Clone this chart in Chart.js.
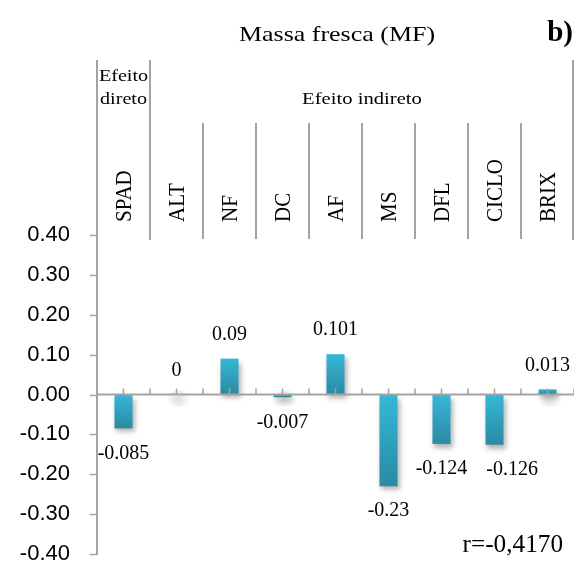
<!DOCTYPE html>
<html>
<head>
<meta charset="utf-8">
<script src="https://cdn.jsdelivr.net/npm/chart.js@4"></script>
<style>
  html, body { margin: 0; padding: 0; background: #ffffff; }
  #wrap { width: 574px; height: 569px; position: relative; }
</style>
</head>
<body>
<div id="wrap"><canvas id="c" width="574" height="569"></canvas></div>
<script>
const categories = ['SPAD', 'ALT', 'NF', 'DC', 'AF', 'MS', 'DFL', 'CICLO', 'BRIX'];
const effects = [-0.085, 0, 0.09, -0.007, 0.101, -0.23, -0.124, -0.126, 0.013];
const valueLabels = ['-0.085', '0', '0.09', '-0.007', '0.101', '-0.23', '-0.124', '-0.126', '0.013'];
const yTickValues = [-0.4, -0.3, -0.2, -0.1, 0, 0.1, 0.2, 0.3, 0.4];
const titleText = 'Massa fresca (MF)';
const panelLetter = 'b)';
const directLabel = ['Efeito', 'direto'];
const indirectLabel = 'Efeito indireto';
const corrText = 'r=-0,4170';

const SERIF = '"Liberation Serif", "Times New Roman", serif';
const GRAY = '#a3a3a3';

function barGradient(context) {
  const chart = context.chart;
  const area = chart.chartArea;
  if (!area || !chart.scales.y) return '#30a6c4';
  const v = effects[context.dataIndex];
  const y0 = chart.scales.y.getPixelForValue(0);
  const y1 = chart.scales.y.getPixelForValue(v);
  const top = Math.min(y0, y1), bot = Math.max(y0, y1);
  if (bot - top < 1) return '#30a6c4';
  const g = chart.ctx.createLinearGradient(0, top, 0, bot);
  g.addColorStop(0, '#36b7d7');
  g.addColorStop(1, '#2a8aa2');
  return g;
}

// draw text with horizontal stretch sx
function stretchText(ctx, text, x, y, align, sx) {
  ctx.save();
  ctx.translate(x, y);
  ctx.scale(sx, 1);
  ctx.textAlign = align;
  ctx.fillText(text, 0, 0);
  ctx.restore();
}

const decorPlugin = {
  id: 'decor',
  beforeDatasetsDraw(chart) {
    const ctx = chart.ctx;
    ctx.save();
    ctx.shadowColor = 'rgba(0,0,0,0.30)';
    ctx.shadowBlur = 5;
    ctx.shadowOffsetX = 2;
    ctx.shadowOffsetY = 4;
  },
  afterDatasetsDraw(chart) {
    const ctx = chart.ctx;
    ctx.restore();
    const x = chart.scales.x, y = chart.scales.y;
    const area = chart.chartArea;
    const y0 = y.getPixelForValue(0);
    const n = categories.length;
    const w = (area.right - area.left) / n;

    // faint shadow blobs for (near) zero bars
    ctx.save();
    for (let i = 0; i < n; i++) {
      if (Math.abs(effects[i]) < 0.015) {
        const cx = x.getPixelForValue(i);
        const grd = ctx.createRadialGradient(cx + 2, y0 + 4, 1, cx + 2, y0 + 4, 12);
        grd.addColorStop(0, 'rgba(0,0,0,0.12)');
        grd.addColorStop(1, 'rgba(0,0,0,0)');
        ctx.fillStyle = grd;
        ctx.fillRect(cx - 12, y0 - 4, 28, 16);
      }
    }
    ctx.restore();

    ctx.save();
    // y-axis tick marks (short, left of axis)
    ctx.strokeStyle = GRAY;
    ctx.lineWidth = 1.5;
    ctx.beginPath();
    yTickValues.forEach(v => {
      const py = Math.round(y.getPixelForValue(v)) + 0.5;
      ctx.moveTo(area.left - 7, py); ctx.lineTo(area.left, py);
    });
    ctx.stroke();

    // zero axis line
    ctx.lineWidth = 2;
    ctx.beginPath();
    ctx.moveTo(area.left, y0);
    ctx.lineTo(area.right, y0);
    ctx.stroke();
    // ticks at category centres and boundaries
    ctx.lineWidth = 1.5;
    ctx.beginPath();
    for (let i = 0; i < n; i++) {
      const cx = x.getPixelForValue(i);
      ctx.moveTo(cx, y0 - 6); ctx.lineTo(cx, y0);
      const bx = cx + w / 2;
      ctx.moveTo(bx, y0 - 6); ctx.lineTo(bx, y0);
    }
    ctx.stroke();

    // data labels (nudged right when they would collide with the previous one on the same row)
    ctx.fillStyle = '#000';
    ctx.font = '20px ' + SERIF;
    ctx.textAlign = 'center';
    ctx.textBaseline = 'middle';
    let prev = null;
    for (let i = 0; i < n; i++) {
      let cx = x.getPixelForValue(i);
      const yv = y.getPixelForValue(effects[i]);
      const ly = effects[i] >= 0 ? yv - 24 : yv + 25;
      const tw = ctx.measureText(valueLabels[i]).width;
      if (prev && Math.abs(prev.y - ly) < 20) {
        const minLeft = prev.right + 19;
        if (cx - tw / 2 < minLeft) cx = minLeft + tw / 2;
      }
      ctx.fillText(valueLabels[i], cx, ly);
      prev = { y: ly, right: cx + tw / 2 };
    }

    // header separator lines
    const leftX = area.left;
    const firstB = area.left + w;
    ctx.strokeStyle = GRAY;
    ctx.lineWidth = 2;
    ctx.beginPath();
    ctx.moveTo(leftX, 60); ctx.lineTo(leftX, area.top);
    ctx.moveTo(firstB, 60); ctx.lineTo(firstB, 240);
    for (let i = 2; i < n; i++) {
      const bx = area.left + i * w;
      ctx.moveTo(bx, 123); ctx.lineTo(bx, 239);
    }
    ctx.moveTo(area.right - 1, 60); ctx.lineTo(area.right - 1, 240);
    ctx.stroke();

    // category labels (vertical)
    ctx.font = '21px ' + SERIF;
    ctx.textAlign = 'left';
    ctx.textBaseline = 'alphabetic';
    for (let i = 0; i < n; i++) {
      const cx = x.getPixelForValue(i);
      ctx.save();
      ctx.translate(cx + 7.5, 222);
      ctx.rotate(-Math.PI / 2);
      ctx.scale(1, 1.12);
      ctx.fillText(categories[i], 0, 0);
      ctx.restore();
    }

    // group labels
    ctx.font = '17.5px ' + SERIF;
    const dcx = area.left + w / 2;
    stretchText(ctx, directLabel[0], dcx, 81, 'center', 1.15);
    stretchText(ctx, directLabel[1], dcx, 104, 'center', 1.15);
    stretchText(ctx, indirectLabel, (firstB + area.right) / 2, 104, 'center', 1.18);

    // title
    ctx.font = '22px ' + SERIF;
    stretchText(ctx, titleText, 337, 41, 'center', 1.18);
    ctx.font = 'bold 29px ' + SERIF;
    stretchText(ctx, panelLetter, 573, 41, 'right', 1.0);

    // correlation
    ctx.font = '24.5px ' + SERIF;
    stretchText(ctx, corrText, 563, 552, 'right', 1.03);
    ctx.restore();
  }
};

new Chart(document.getElementById('c'), {
  type: 'bar',
  data: {
    labels: categories,
    datasets: [{
      data: effects,
      backgroundColor: barGradient,
      borderWidth: 0,
      barPercentage: 0.34,
      categoryPercentage: 1.0
    }]
  },
  options: {
    responsive: false,
    animation: false,
    devicePixelRatio: 1,
    layout: { padding: { top: 235, bottom: 15, left: 0, right: 0 } },
    plugins: { legend: { display: false }, tooltip: { enabled: false } },
    scales: {
      x: {
        display: false,
        offset: true,
        ticks: { display: false },
        grid: { display: false, drawTicks: false },
        border: { display: false }
      },
      y: {
        min: -0.4,
        max: 0.4,
        afterBuildTicks(scale) {
          scale.ticks = yTickValues.map(v => ({ value: v }));
        },
        afterFit(scale) { scale.width = 97; },
        ticks: {
          padding: 0,
          color: '#000',
          font: { family: '"Liberation Sans", Arial, sans-serif', size: 22 },
          callback: v => (Math.abs(v) < 1e-9 ? 0 : v).toFixed(2)
        },
        grid: { display: true, drawOnChartArea: false, drawTicks: true, tickLength: 27, tickColor: 'rgba(0,0,0,0)', color: 'rgba(0,0,0,0)' },
        border: { display: true, color: GRAY, width: 2 }
      }
    }
  },
  plugins: [decorPlugin]
});
</script>
</body>
</html>
